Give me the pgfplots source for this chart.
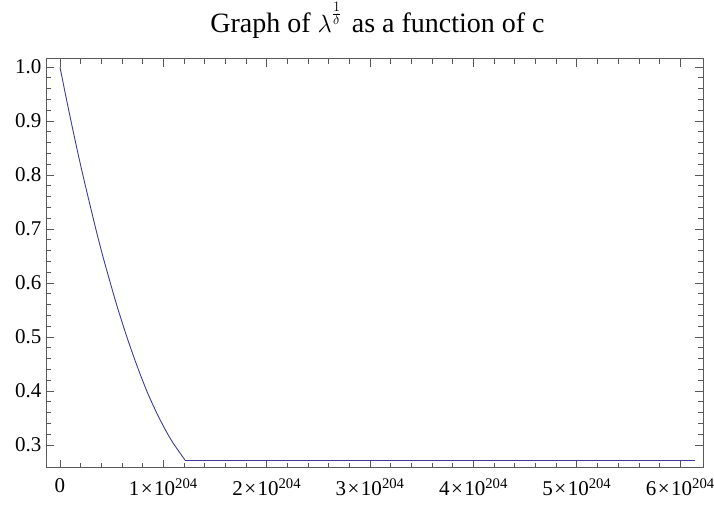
\documentclass[border=0pt]{standalone}
\usepackage{fontspec}
\setmainfont{Liberation Serif}
\usepackage{pgfplots}
\pgfplotsset{compat=1.18}

\definecolor{curve}{rgb}{0.24,0.24,0.6}
\definecolor{frame}{gray}{0.35}

\newcommand{\tenpow}[1]{#1\kern1.5pt×\kern1.5pt10\textsuperscript{204}}

\begin{document}
\begin{tikzpicture}
\begin{axis}[
  scale only axis,
  width=657pt,
  height=409pt,
  xmin=-0.135, xmax=6.22,
  ymin=0.258, ymax=1.0154,
  axis line style={frame, line width=0.8pt},
  tick style={frame, line width=0.8pt},
  tick align=inside,
  major tick length=8pt,
  minor tick length=5pt,
  xtick={0,1,2,3,4,5,6},
  xticklabels={0, \tenpow{1}, \tenpow{2}, \tenpow{3}, \tenpow{4}, \tenpow{5}, \tenpow{6}},
  ytick={0.3,0.4,0.5,0.6,0.7,0.8,0.9,1.0},
  minor x tick num=4,
  minor y tick num=4,
  yticklabel style={xshift=-1pt, /pgf/number format/.cd, fixed, fixed zerofill, precision=1},
  /pgf/number format/assume math mode=true,
  tick label style={font=\fontsize{21}{24}\selectfont, text=black},
  xticklabel style={yshift=-7pt},
  title={Graph of $\lambda^{\raisebox{6pt}{$\scriptscriptstyle\frac{1}{\delta}$}}$\hspace{3pt} as a function of c},
  title style={font=\fontsize{28}{31}\selectfont, at={(0.5,1)}, anchor=base, yshift=20pt, xshift=3pt},
]
\coordinate (sw) at (rel axis cs:0,0);
\coordinate (ne) at (rel axis cs:1,1);
\addplot[curve, line width=0.9pt, smooth, tension=0.5] coordinates {
  (0,1.0) (0.06,0.943) (0.12,0.888) (0.18,0.835) (0.24,0.785) (0.30,0.737)
  (0.36,0.690) (0.42,0.646) (0.48,0.605) (0.54,0.565) (0.60,0.528)
  (0.66,0.493) (0.72,0.460) (0.78,0.429) (0.84,0.400) (0.90,0.374)
  (0.96,0.350) (1.02,0.328) (1.08,0.308) (1.14,0.291) (1.21,0.272)
};
\addplot[curve, line width=0.9pt] coordinates {(1.21,0.272) (6.147,0.272)};
\end{axis}
\pgfresetboundingbox
\useasboundingbox ([shift={(-46pt,-38.3pt)}]sw) rectangle ([shift={(11pt,58.7pt)}]ne);
\end{tikzpicture}
\end{document}
